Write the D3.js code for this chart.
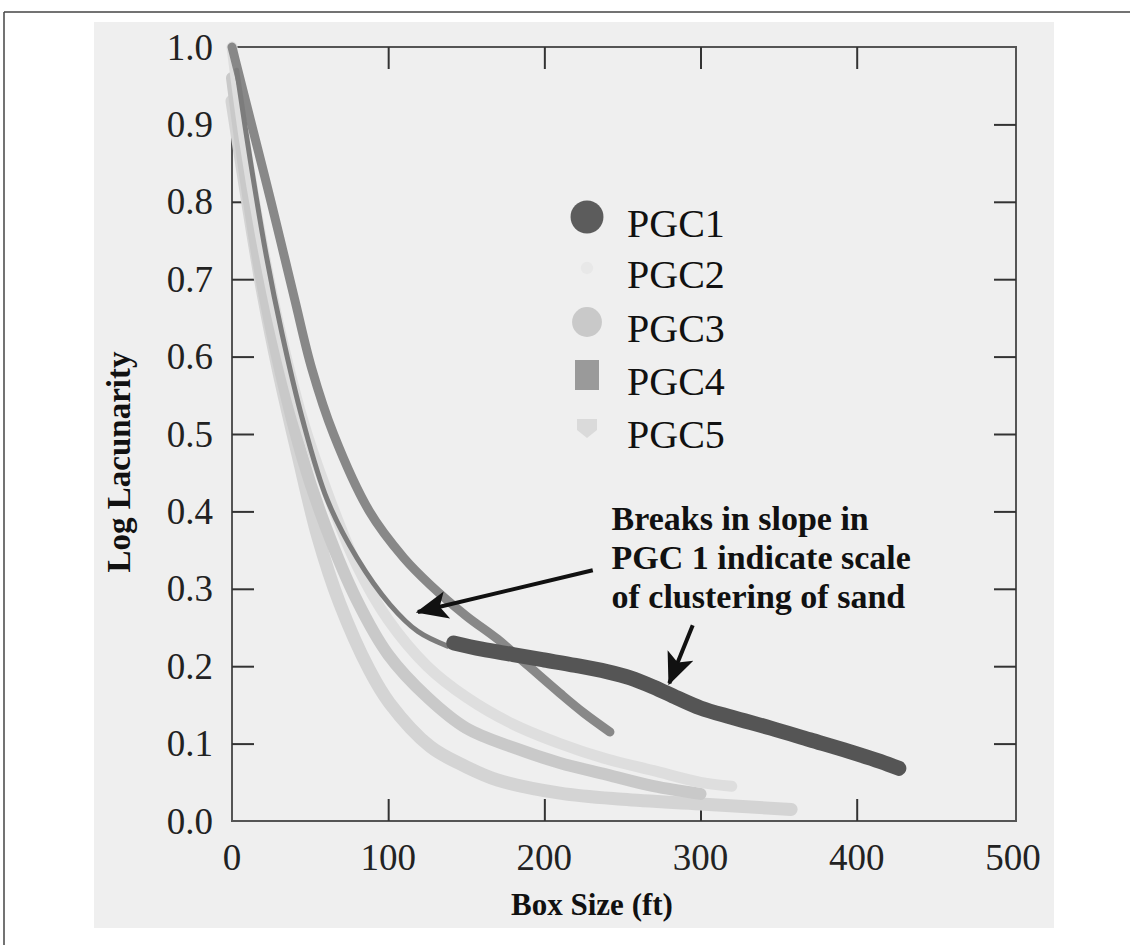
<!DOCTYPE html>
<html>
<head>
<meta charset="utf-8">
<script src="https://cdn.jsdelivr.net/npm/d3@7"></script>
<style>
body { margin: 0; background: #fff; }
svg { display: block; }
text { font-family: "Liberation Serif", "DejaVu Serif", serif; fill: #111; }
</style>
</head>
<body>
<div id="chart"></div>
<script>
// box size (ft), log lacunarity
var pgc1 = [[3, 0.97], [12, 0.85], [22, 0.73], [32, 0.63], [45, 0.52], [61, 0.415], [80, 0.34],
    [101, 0.28], [119, 0.245], [138, 0.226], [142, 0.23], [160, 0.222], [180, 0.215], [200, 0.208],
    [220, 0.201], [240, 0.193], [255, 0.185], [270, 0.173], [285, 0.159], [300, 0.146], [320, 0.134],
    [345, 0.12], [370, 0.105], [395, 0.09], [415, 0.077], [427, 0.068]];
var pgc2 = [[0, 1.0], [8, 0.88], [18, 0.76], [30, 0.64], [45, 0.52], [60, 0.43], [80, 0.33],
    [100, 0.26], [125, 0.2], [150, 0.16], [180, 0.125], [210, 0.1], [240, 0.08], [270, 0.065],
    [300, 0.05], [320, 0.045]];
var pgc3 = [[0, 0.96], [8, 0.84], [18, 0.71], [30, 0.59], [45, 0.47], [60, 0.38], [80, 0.285],
    [100, 0.215], [125, 0.16], [150, 0.12], [180, 0.095], [210, 0.075], [240, 0.06], [270, 0.045],
    [300, 0.035]];
var pgc4 = [[0, 1.0], [10, 0.92], [25, 0.8], [40, 0.675], [51, 0.585], [65, 0.5], [88, 0.4],
    [110, 0.34], [127, 0.305], [150, 0.265], [170, 0.235], [190, 0.2], [210, 0.165], [225, 0.14],
    [242, 0.115]];
var pgc5 = [[0, 0.93], [10, 0.8], [20, 0.68], [30, 0.58], [42, 0.475], [55, 0.367], [69, 0.281],
    [88, 0.195], [101, 0.152], [127, 0.096], [150, 0.07], [170, 0.053], [210, 0.036], [250, 0.028],
    [300, 0.022], [358, 0.015]];

var seriesNames = ["PGC1", "PGC2", "PGC3", "PGC4", "PGC5"];
var xTicks = [0, 100, 200, 300, 400, 500];
var yTicks = [0.0, 0.1, 0.2, 0.3, 0.4, 0.5, 0.6, 0.7, 0.8, 0.9, 1.0];
var noteLines = ["Breaks in slope in", "PGC 1 indicate scale", "of clustering of sand"];

var width = 1130;
var height = 945;
var plotL = 232, plotR = 1016, plotT = 47, plotB = 821;

var svg = d3.select('#chart')
    .append('svg')
    .attr('width', width)
    .attr('height', height);

// page frame lines and grey panel
svg.append('rect')
    .attr('x', 94).attr('y', 22)
    .attr('width', 960).attr('height', 906)
    .attr('fill', '#efefef');
svg.append('line')
    .attr('x1', 4).attr('x2', width).attr('y1', 12).attr('y2', 12)
    .attr('stroke', '#444').attr('stroke-width', 1.5);
svg.append('line')
    .attr('x1', 4).attr('x2', 4).attr('y1', 12).attr('y2', height)
    .attr('stroke', '#444').attr('stroke-width', 1.5);

var x = d3.scaleLinear().domain([0, 502]).range([plotL, plotR]);
var y = d3.scaleLinear().domain([0, 1]).range([plotB, plotT]);

// frame
svg.append('rect')
    .attr('x', plotL).attr('y', plotT)
    .attr('width', plotR - plotL).attr('height', plotB - plotT)
    .attr('fill', 'none')
    .attr('stroke', '#555')
    .attr('stroke-width', 2);

var tickLen = 22;
var axisColor = '#333';

function styleAxis(g) {
    g.select('.domain').remove();
    g.selectAll('.tick line').attr('stroke', axisColor).attr('stroke-width', 2);
    g.selectAll('.tick text').remove();
}

svg.append('g')
    .attr('transform', 'translate(0,' + plotB + ')')
    .call(d3.axisTop(x).tickValues(xTicks.slice(1, 5)).tickSize(tickLen))
    .call(styleAxis);
svg.append('g')
    .attr('transform', 'translate(0,' + plotT + ')')
    .call(d3.axisBottom(x).tickValues(xTicks.slice(1, 5)).tickSize(tickLen))
    .call(styleAxis);
svg.append('g')
    .attr('transform', 'translate(' + plotL + ',0)')
    .call(d3.axisRight(y).tickValues(yTicks.slice(1, 10)).tickSize(tickLen))
    .call(styleAxis);
svg.append('g')
    .attr('transform', 'translate(' + plotR + ',0)')
    .call(d3.axisLeft(y).tickValues(yTicks.slice(1, 10)).tickSize(tickLen))
    .call(styleAxis);

// tick labels
svg.selectAll('.xlab')
    .data(xTicks)
    .enter()
    .append('text')
    .attr('class', 'xlab')
    .attr('x', function (d) { return x(d); })
    .attr('y', 870)
    .attr('text-anchor', 'middle')
    .style('font-size', '37px')
    .style('fill', '#222')
    .text(function (d) { return d; });

svg.selectAll('.ylab')
    .data(yTicks)
    .enter()
    .append('text')
    .attr('class', 'ylab')
    .attr('x', 213)
    .attr('y', function (d) { return y(d); })
    .attr('dy', '0.34em')
    .attr('text-anchor', 'end')
    .style('font-size', '37px')
    .style('fill', '#222')
    .text(function (d) { return d.toFixed(1); });

// axis titles
svg.append('text')
    .attr('x', 592)
    .attr('y', 915)
    .attr('text-anchor', 'middle')
    .style('font-size', '31px')
    .style('font-weight', 'bold')
    .text('Box Size (ft)');

svg.append('text')
    .attr('transform', 'translate(130,462) rotate(-90)')
    .attr('text-anchor', 'middle')
    .style('font-size', '33px')
    .style('font-weight', 'bold')
    .text('Log Lacunarity');

// curves
var line = d3.line()
    .x(function (d) { return x(d[0]); })
    .y(function (d) { return y(d[1]); })
    .curve(d3.curveCatmullRom.alpha(0.5));

var curves = svg.append('g').attr('stroke-linecap', 'round').attr('fill', 'none');

curves.append('path').attr('d', line(pgc5)).attr('stroke', '#d4d4d4').attr('stroke-width', 13);
curves.append('path').attr('d', line(pgc3)).attr('stroke', '#c9c9c9').attr('stroke-width', 12);
curves.append('path').attr('d', line(pgc2)).attr('stroke', '#dedede').attr('stroke-width', 11);
curves.append('path').attr('d', line(pgc4)).attr('stroke', '#888').attr('stroke-width', 9);

var pgc1Early = pgc1.filter(function (d) { return d[0] <= 140; });
var pgc1Late = pgc1.filter(function (d) { return d[0] >= 140; });
curves.append('path').attr('d', line(pgc1Early)).attr('stroke', '#7c7c7c').attr('stroke-width', 5);
curves.append('path').attr('d', line(pgc1Late)).attr('stroke', '#555').attr('stroke-width', 15);

// legend
var legendY = [217, 268, 322, 375, 428];
var legend = svg.selectAll('.legend')
    .data(seriesNames)
    .enter()
    .append('g')
    .attr('class', 'legend')
    .attr('transform', function (d, i) {
        return 'translate(587,' + legendY[i] + ')';
    });

legend.append('path')
    .attr('d', function (d, i) {
        if (i === 0) return d3.symbol().type(d3.symbolCircle).size(850)();
        if (i === 1) return d3.symbol().type(d3.symbolCircle).size(120)();
        if (i === 2) return d3.symbol().type(d3.symbolCircle).size(700)();
        if (i === 3) return 'M-12,-15H12V15H-12Z';
        return 'M-10,-9H10V2L0,10L-10,2Z';
    })
    .attr('fill', function (d, i) {
        return ['#5c5c5c', '#e8e8e8', '#c9c9c9', '#9a9a9a', '#dadada'][i];
    });

legend.append('text')
    .attr('x', 40)
    .attr('y', 20)
    .style('font-size', '40px')
    .text(function (d) { return d; });

// annotation
svg.selectAll('.note')
    .data(noteLines)
    .enter()
    .append('text')
    .attr('class', 'note')
    .attr('x', x(243))
    .attr('y', function (d, i) { return y(0.376) + i * 39; })
    .style('font-size', '34px')
    .style('font-weight', 'bold')
    .text(function (d) { return d; });

var defs = svg.append('defs');
defs.append('marker')
    .attr('id', 'head')
    .attr('markerUnits', 'userSpaceOnUse')
    .attr('viewBox', '0 0 30 30')
    .attr('refX', 28).attr('refY', 15)
    .attr('markerWidth', 32).attr('markerHeight', 32)
    .attr('orient', 'auto')
    .append('path')
    .attr('d', 'M0,2L30,15L0,28L7,15Z')
    .attr('fill', '#111');

var arrows = [
    [[231, 0.324], [119, 0.27]],
    [[295, 0.253], [280, 0.178]]
];
svg.selectAll('.arrow')
    .data(arrows)
    .enter()
    .append('line')
    .attr('class', 'arrow')
    .attr('x1', function (d) { return x(d[0][0]); })
    .attr('y1', function (d) { return y(d[0][1]); })
    .attr('x2', function (d) { return x(d[1][0]); })
    .attr('y2', function (d) { return y(d[1][1]); })
    .attr('stroke', '#111')
    .attr('stroke-width', 4)
    .attr('marker-end', 'url(#head)');
</script>
</body>
</html>
